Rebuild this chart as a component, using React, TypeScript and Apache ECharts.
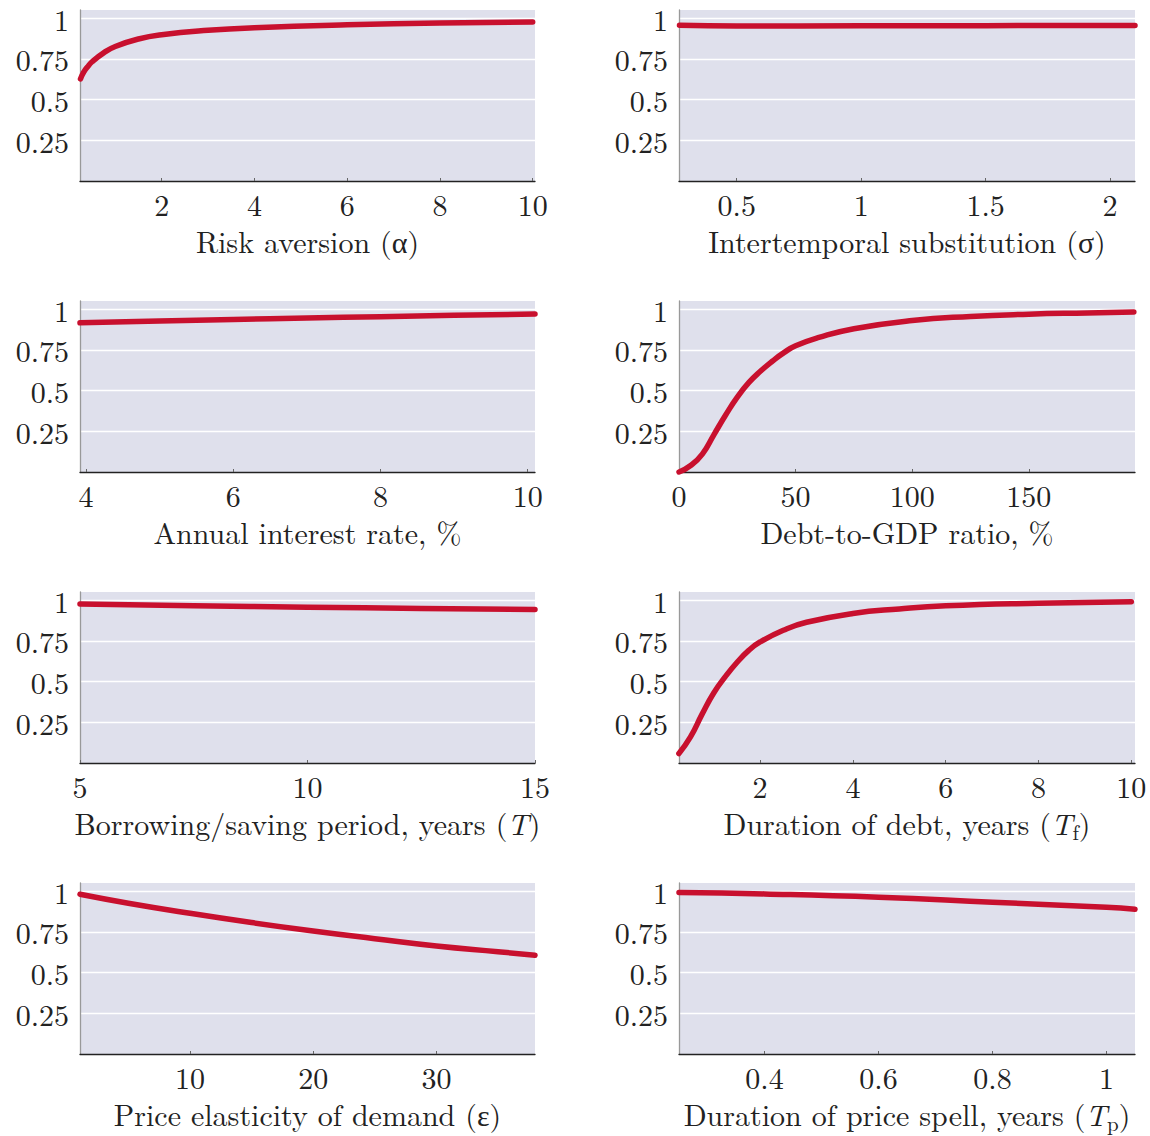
import React, { useEffect, useRef } from "react";
import * as echarts from "echarts";

// Panel 1: Risk aversion
const riskX = [0.25, 0.32, 0.4, 0.5, 0.75, 1, 1.5, 2, 3, 4, 6, 8, 10];
const riskY = [0.627, 0.668, 0.7, 0.732, 0.787, 0.826, 0.872, 0.898, 0.925, 0.941, 0.959, 0.97, 0.976];
// Panel 2: Intertemporal substitution
const sigmaX = [0.27, 0.5, 1, 1.5, 2, 2.1];
const sigmaY = [0.956, 0.952, 0.953, 0.954, 0.955, 0.955];
// Panel 3: Annual interest rate
const rateX = [3.92, 5, 6, 7, 8, 9, 10.1];
const rateY = [0.916, 0.927, 0.937, 0.946, 0.954, 0.962, 0.97];
// Panel 4: Debt-to-GDP
const debtX = [0, 5, 10, 15, 20, 25, 30, 35, 40, 45, 50, 60, 75, 100, 125, 150, 175, 195];
const debtY = [0.0, 0.04, 0.11, 0.23, 0.35, 0.46, 0.55, 0.62, 0.68, 0.733, 0.775, 0.826, 0.88, 0.93, 0.955, 0.969, 0.977, 0.983];
// Panel 5: Borrowing/saving period
const periodX = [5, 7.5, 10, 12.5, 15];
const periodY = [0.977, 0.966, 0.957, 0.949, 0.942];
// Panel 6: Duration of debt
const durDebtX = [0.25, 0.5, 0.75, 1, 1.25, 1.5, 1.75, 2, 2.5, 3, 4, 5, 6, 8, 10];
const durDebtY = [0.058, 0.16, 0.3, 0.43, 0.53, 0.617, 0.69, 0.743, 0.815, 0.864, 0.918, 0.946, 0.965, 0.981, 0.99];
// Panel 7: Price elasticity
const elastX = [1.08, 5, 10, 15, 20, 25, 30, 35, 38];
const elastY = [0.981, 0.926, 0.864, 0.807, 0.755, 0.708, 0.663, 0.628, 0.607];
// Panel 8: Duration of price spell
const spellX = [0.25, 0.4, 0.6, 0.8, 1.0, 1.05];
const spellY = [0.992, 0.983, 0.963, 0.932, 0.901, 0.889];

const yTicks = [0.25, 0.5, 0.75, 1];

const panels = [
  { name: "Risk aversion (α)", xs: riskX, ys: riskY, min: 0.24, max: 10.05, ticks: [2, 4, 6, 8, 10] },
  { name: "Intertemporal substitution (σ)", xs: sigmaX, ys: sigmaY, min: 0.268, max: 2.1, ticks: [0.5, 1, 1.5, 2] },
  { name: "Annual interest rate, %", xs: rateX, ys: rateY, min: 3.92, max: 10.1, ticks: [4, 6, 8, 10] },
  { name: "Debt-to-GDP ratio, %", xs: debtX, ys: debtY, min: 0, max: 195.5, ticks: [0, 50, 100, 150] },
  { name: "Borrowing/saving period, years ({i|T})", xs: periodX, ys: periodY, min: 5, max: 15, ticks: [5, 10, 15] },
  { name: "Duration of debt, years ({i|T}{s|f})", xs: durDebtX, ys: durDebtY, min: 0.252, max: 10.08, ticks: [2, 4, 6, 8, 10] },
  { name: "Price elasticity of demand (ε)", xs: elastX, ys: elastY, min: 1.08, max: 38, ticks: [10, 20, 30] },
  { name: "Duration of price spell, years ({i|T}{s|p})", xs: spellX, ys: spellY, min: 0.25, max: 1.05, ticks: [0.4, 0.6, 0.8, 1] },
];

const FONT = "'Latin Modern Roman', 'CMU Serif', 'Liberation Serif', serif";
const TEXT = "#222";

export default function App() {
  const ref = useRef<HTMLDivElement>(null);
  useEffect(() => {
    document.body.style.margin = "0";
    const chart = echarts.init(ref.current!, null, { renderer: "svg" });
    const lefts = [80, 679];
    const widths = [455, 456];
    const tops = [10, 301, 592, 883];
    const grid: any[] = [];
    const xAxis: any[] = [];
    const yAxis: any[] = [];
    const series: any[] = [];
    panels.forEach((p, i) => {
      const col = i % 2;
      const row = Math.floor(i / 2);
      grid.push({
        left: lefts[col],
        top: tops[row],
        width: widths[col],
        height: 171,
        show: true,
        backgroundColor: "#dfe0ec",
        borderWidth: 0,
        containLabel: false,
      });
      xAxis.push({
        type: "value",
        gridIndex: i,
        min: p.min,
        max: p.max,
        name: p.name,
        nameLocation: "middle",
        nameGap: 59,
        nameTextStyle: {
          fontFamily: FONT,
          fontSize: 30,
          lineHeight: 24,
          color: TEXT,
          verticalAlign: "middle",
          rich: {
            i: { fontFamily: FONT, fontSize: 30, fontStyle: "italic", color: TEXT, lineHeight: 24, verticalAlign: "middle" },
            s: { fontFamily: FONT, fontSize: 21, color: TEXT, verticalAlign: "bottom", lineHeight: 38 },
          },
        },
        axisLine: { show: true, onZero: false, lineStyle: { color: "#222", width: 1.3 } },
        axisTick: { show: true, inside: true, length: 3, customValues: p.ticks, lineStyle: { color: "#666", width: 1 } },
        axisLabel: {
          customValues: p.ticks,
          fontFamily: FONT,
          fontSize: 30,
          lineHeight: 24,
          color: TEXT,
          margin: 10,
          formatter: (v: number) => String(+v.toFixed(4)),
        },
        splitLine: { show: false },
      });
      yAxis.push({
        type: "value",
        gridIndex: i,
        min: 0,
        max: 1.05,
        axisLine: { show: true, onZero: false, lineStyle: { color: "#999", width: 1.3 } },
        axisTick: { show: false, customValues: yTicks },
        axisLabel: {
          customValues: yTicks,
          fontFamily: FONT,
          fontSize: 30,
          lineHeight: 24,
          color: TEXT,
          margin: 11,
          formatter: (v: number) => String(+v.toFixed(4)),
        },
        splitLine: { show: true, lineStyle: { color: "#ffffff", width: 1.3 } },
      });
      series.push({
        type: "line",
        xAxisIndex: i,
        yAxisIndex: i,
        data: p.xs.map((x, k) => [x, p.ys[k]]),
        showSymbol: false,
        symbol: "none",
        smooth: 0.5,
        lineStyle: { color: "#c8102e", width: 5.5, cap: "round", join: "round" },
        clip: false,
      });
    });
    chart.setOption({ animation: false, grid, xAxis, yAxis, series });
    return () => chart.dispose();
  }, []);
  return <div ref={ref} style={{ width: 1150, height: 1136 }} />;
}
